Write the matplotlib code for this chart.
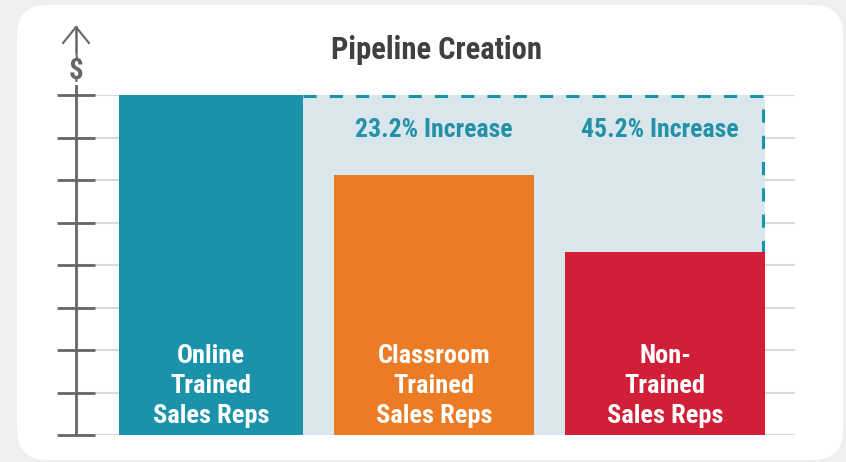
import matplotlib.pyplot as plt
from matplotlib.patches import FancyBboxPatch, Rectangle
from matplotlib.transforms import IdentityTransform

plt.rcParams['font.family'] = ['Roboto Condensed', 'Liberation Sans Narrow', 'Roboto', 'DejaVu Sans']

# data (values in grid steps)
categories = ['Online\nTrained\nSales Reps', 'Classroom\nTrained\nSales Reps', 'Non-\nTrained\nSales Reps']
values = [8.0, 6.12, 4.3]
increases = ['', '23.2% Increase', '45.2% Increase']
colors = ['#1a93aa', '#eb7b24', '#d01f37']

# layout
x_pos = [0.035, 1.0, 2.0]
widths = [0.797, 0.866, 0.866]
inc_shift = [0, 0, -0.022]

fig = plt.figure(figsize=(8.46, 4.62), dpi=100)
fig.patch.set_facecolor('#efefef')
card = FancyBboxPatch((17, 2), 826, 455, boxstyle='round,pad=0,rounding_size=30',
                      transform=IdentityTransform(), facecolor='white', edgecolor='none',
                      zorder=-10)
fig.patches.append(card)

ax = fig.add_axes([76 / 846, 27 / 462, 719 / 846, 340 / 462])
ax.set_zorder(5)
ax.set_facecolor('none')
ax.set_xlim(-0.550, 2.563)
ax.set_ylim(0, 8)

# shaded comparison region
left = x_pos[0] + widths[0] / 2
right = x_pos[2] + widths[2] / 2
ax.add_patch(Rectangle((left, 0), right - left, values[0], facecolor='#d9e6ec',
                       edgecolor='none', zorder=1))

for y in range(0, 9):
    ax.axhline(y, color='#d9d9d9', lw=1.5, zorder=0.5)

ax.bar(x_pos, values, width=widths, color=colors, zorder=3)

# dashed outline
dash_x = right - 0.008
ax.plot([left, dash_x, dash_x], [values[0] - 0.02, values[0] - 0.02, values[2]], color='#1a93aa',
        lw=2.2, ls=(0, (4.3, 4.3)), zorder=2, clip_on=False)

for xp, lab in zip(x_pos, categories):
    ax.text(xp, 1.15, lab, color='white', fontsize=19, fontweight='bold', ha='center',
            va='center', linespacing=1.33, zorder=4)

for xp, dx, inc in zip(x_pos, inc_shift, increases):
    if inc:
        ax.text(xp + dx, 7.18, inc, color='#2391a8', fontsize=18.5, fontweight='bold',
                ha='center', va='center', zorder=4)

# axis with arrow
for s in ax.spines.values():
    s.set_visible(False)
ax.set_xticks([])
ax.set_yticks(range(0, 9))
ax.set_yticklabels([])
ax.tick_params(axis='y', direction='inout', length=27, width=2, color='#666666')
ax.plot([0, 0], [0, 1.026], color='#666666', lw=2, transform=ax.transAxes, clip_on=False, zorder=5)
ax.plot([0, 0], [1.1235, 1.2], color='#666666', lw=1.8, transform=ax.transAxes, clip_on=False)
ax.plot([-0.018, 0, 0.018], [1.153, 1.2, 1.153], color='#666666', lw=1.5,
        transform=ax.transAxes, clip_on=False)
ax.text(0, 1.07, '$', color='#666666', fontsize=21, fontweight='bold', ha='center',
        va='center', transform=ax.transAxes)

fig.text(436 / 846, 1 - 50 / 462, 'Pipeline Creation', color='#404040', fontsize=22,
         fontweight='bold', ha='center', va='center')

fig.savefig('out.png', dpi=100, facecolor=fig.get_facecolor())
